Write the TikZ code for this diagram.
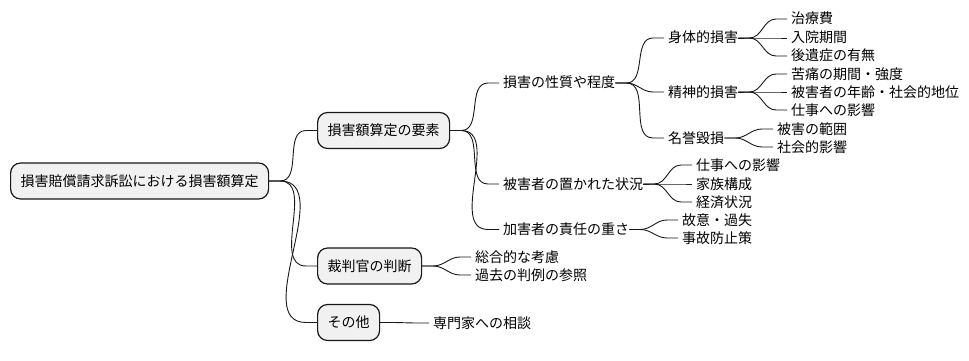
\documentclass[tikz,border=0pt]{standalone}
\usepackage{fontspec}
\setmainfont{Noto Sans CJK JP}
\usepackage{tikz}
\usetikzlibrary{positioning, calc}

\definecolor{boxfill}{HTML}{F1F1F1}
\definecolor{boxline}{HTML}{181818}

% parent, child, gap before child
\newcommand{\branch}[3]{%
  \draw[edge] (#1.east) -- ++(11,0) to[out=0,in=180] ([xshift=-#3pt-11pt]#2.west) -- ([xshift=-#3pt]#2.west);}

\begin{document}
\begin{tikzpicture}[
		x=1pt, y=-1pt,
		font=\fontsize{14}{16}\selectfont,
		topic/.style={
			draw=boxline,
			fill=boxfill,
			line width=1.2pt,
			rounded corners=10pt,
			anchor=west,
			inner xsep=10pt,
			minimum height=36pt,
			text height=11.5pt,
			text depth=1.5pt
		},
		leaf/.style={
			anchor=west,
			inner xsep=0pt,
			inner ysep=0pt,
			text height=11.5pt,
			text depth=1.5pt
		},
		edge/.style={draw=boxline, line width=0.9pt}
		]
		\useasboundingbox (0,0) rectangle (969,361);
		
		% Boxes
		\node[topic] at (10,181) (root) {損害賠償請求訴訟における損害額算定};
		\node[topic] at (317,130.5) (elements) {損害額算定の要素};
		\node[topic] at (317,266) (judge) {裁判官の判断};
		\node[topic] at (317,322.5) (other) {その他};
		
		% Second level
		\node[leaf] at (503,83) (nature) {損害の性質や程度};
		\node[leaf] at (503,184) (situation) {被害者の置かれた状況};
		\node[leaf] at (503,229.5) (burden) {加害者の責任の重さ};
		\node[leaf] at (475,257) (overall) {総合的な考慮};
		\node[leaf] at (475,275) (precedent) {過去の判例の参照};
		\node[leaf] at (433,323) (expert) {専門家への相談};
		
		% Third level
		\node[leaf] at (668,38) (body) {身体的損害};
		\node[leaf] at (668,92) (mind) {精神的損害};
		\node[leaf] at (668,138) (honor) {名誉毀損};
		\node[leaf] at (696,165) (work) {仕事への影響};
		\node[leaf] at (696,184) (family) {家族構成};
		\node[leaf] at (696,202) (money) {経済状況};
		\node[leaf] at (682,220) (intent) {故意・過失};
		\node[leaf] at (682,238) (prevent) {事故防止策};
		
		% Fourth level
		\node[leaf] at (791,19) (cure) {治療費};
		\node[leaf] at (791,38) (stay) {入院期間};
		\node[leaf] at (791,56) (after) {後遺症の有無};
		\node[leaf] at (791,74) (pain) {苦痛の期間・強度};
		\node[leaf] at (791,92) (status) {被害者の年齢・社会的地位};
		\node[leaf] at (791,110) (job) {仕事への影響};
		\node[leaf] at (777,129) (range) {被害の範囲};
		\node[leaf] at (777,147) (social) {社会的影響};
		
		% Connectors
		\foreach \c in {elements, judge, other}
			\branch{root}{\c}{0};
		\foreach \p/\c in {elements/nature, elements/situation, elements/burden,
			judge/overall, judge/precedent, other/expert,
			nature/body, nature/mind, nature/honor,
			situation/work, situation/family, situation/money,
			burden/intent, burden/prevent,
			body/cure, body/stay, body/after,
			mind/pain, mind/status, mind/job,
			honor/range, honor/social}
			\branch{\p}{\c}{4};
		
	\end{tikzpicture}
\end{document}
